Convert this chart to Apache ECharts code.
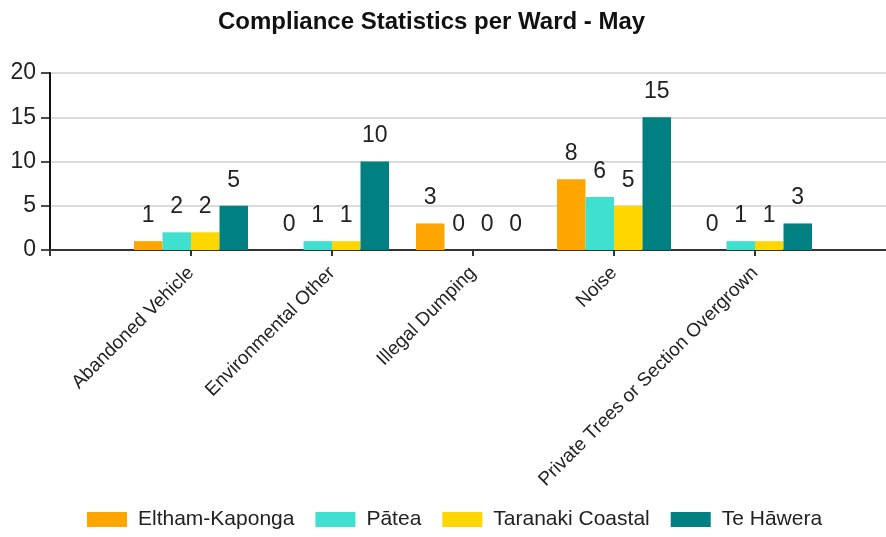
<!DOCTYPE html>
<html>
<head>
<meta charset="utf-8">
<script src="https://cdn.jsdelivr.net/npm/echarts@6/dist/echarts.min.js"></script>
<style>
  html, body { margin: 0; padding: 0; background: #fff; }
  #main { width: 886px; height: 537px; }
</style>
</head>
<body>
<div id="main"></div>
<script>
// categories + values per ward
var categories = ['Abandoned Vehicle', 'Environmental Other', 'Illegal Dumping', 'Noise', 'Private Trees or Section Overgrown'];
var elthamKaponga = [1, 0, 3, 8, 0];
var patea = [2, 1, 0, 6, 1];
var taranakiCoastal = [2, 1, 0, 5, 1];
var teHawera = [5, 10, 0, 15, 3];
var yTicks = [0, 5, 10, 15, 20];

var wards = [
  {name: 'Eltham-Kaponga', data: elthamKaponga, color: '#FFA500'},
  {name: 'Pātea', data: patea, color: '#40E0D0'},
  {name: 'Taranaki Coastal', data: taranakiCoastal, color: '#FFD700'},
  {name: 'Te Hāwera', data: teHawera, color: '#008080'}
];

// empty slot at each end, like the original
var axisCats = [''].concat(categories).concat(['']);
function pad(arr) { return [null].concat(arr).concat([null]); }

var myChart = echarts.init(document.getElementById('main'));
myChart.setOption({
  animation: false,
  textStyle: {fontFamily: 'Liberation Sans, Arial, sans-serif'},
  title: {
    text: 'Compliance Statistics per Ward - May',
    left: 213,
    top: 5,
    textStyle: {fontSize: 24, fontWeight: 'bold', color: '#111'}
  },
  legend: {
    bottom: 2,
    left: 82,
    itemWidth: 40,
    itemHeight: 15,
    itemGap: 21,
    icon: 'rect',
    textStyle: {fontSize: 21, color: '#222', padding: [0, 0, 0, 6]},
    data: wards.map(function (w) { return w.name; })
  },
  // axis runs past the right edge of the canvas
  grid: {left: 50, width: 846, top: 73, height: 177, containLabel: false, outerBoundsMode: 'none'},
  xAxis: {
    type: 'category',
    data: axisCats,
    boundaryGap: false,
    axisLine: {lineStyle: {color: '#333', width: 2}},
    axisTick: {show: true, length: 6, lineStyle: {color: '#333', width: 2}},
    axisLabel: {interval: 0, rotate: 45, margin: 20, fontSize: 19, color: '#222'},
    splitLine: {show: false}
  },
  yAxis: {
    type: 'value',
    min: yTicks[0],
    max: yTicks[yTicks.length - 1],
    interval: 5,
    axisLine: {show: true, lineStyle: {color: '#111', width: 2}},
    axisTick: {show: true, length: 9, lineStyle: {color: '#111', width: 1.5}},
    axisLabel: {fontSize: 23, color: '#222', margin: 14},
    splitLine: {lineStyle: {color: '#dcdcdc', width: 2}}
  },
  series: wards.map(function (w) {
    return {
      name: w.name,
      type: 'bar',
      data: pad(w.data),
      barWidth: 28.5,
      barGap: '0%',
      itemStyle: {color: w.color},
      label: {show: true, position: 'top', distance: 14, fontSize: 23, color: '#222'}
    };
  })
});
</script>
</body>
</html>
